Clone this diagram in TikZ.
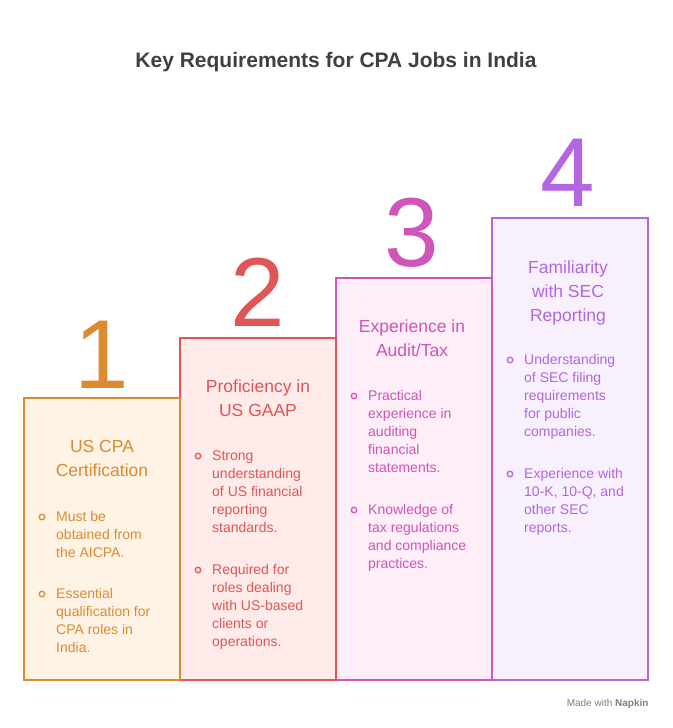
\documentclass[tikz,border=0pt]{standalone}
\usepackage{fontspec}
\setmainfont{Liberation Sans}
\begin{document}
\begin{tikzpicture}[x=1pt,y=-1pt,
 box/.style={line width=1.3pt},
 num/.style={font=\fontsize{98}{98}\selectfont,anchor=base},
 hd/.style={font=\fontsize{17.5}{24}\selectfont,align=center,anchor=base},
 bt/.style={font=\fontsize{14}{18}\selectfont,align=left,anchor=base west,inner sep=0},
 bul/.style={circle,draw,line width=1.3pt,minimum size=5.5pt,inner sep=0}]
\useasboundingbox (0,0) rectangle (672,728);
\definecolor{c1}{HTML}{DB8A30}\definecolor{f1}{HTML}{FFF3E6}
\definecolor{c2}{HTML}{E05555}\definecolor{f2}{HTML}{FFECEA}
\definecolor{c3}{HTML}{CF55B8}\definecolor{f3}{HTML}{FDEEF8}
\definecolor{c4}{HTML}{B266E0}\definecolor{f4}{HTML}{F8F0FD}
\node[font=\bfseries\fontsize{21}{24}\selectfont,text=black!75] (title) at (336,62) {Key Requirements for CPA Jobs in India};
\draw[box,c4,fill=f4] (492,218) rectangle (648,680);
\draw[box,c3,fill=f3] (336,278) rectangle (492,680);
\draw[box,c2,fill=f2] (180,338) rectangle (336,680);
\draw[box,c1,fill=f1] (24,398) rectangle (180,680);
% numbers
\node[num,text=c1] (n1) at (102,388) {1};
\node[num,text=c2] (n2) at (258,326) {2};
\node[num,text=c3] (n3) at (412,266) {3};
\node[num,text=c4] (n4) at (568,206) {4};
% col1
\node[hd,text=c1] (h1) at (102,476) {US CPA\\Certification};
\node[bul,c1] (b11) at (42,517) {};
\node[bt,text=c1] (t11) at (56,557) {Must be\\obtained from\\the AICPA.};
\node[bul,c1] (b12) at (42,594) {};
\node[bt,text=c1] (t12) at (56,652) {Essential\\qualification for\\CPA roles in\\India.};
% col2
\node[hd,text=c2] (h2) at (258,416) {Proficiency in\\US GAAP};
\node[bul,c2] (b21) at (198,456) {};
\node[bt,text=c2] (t21) at (212,532) {Strong\\understanding\\of US financial\\reporting\\standards.};
\node[bul,c2] (b22) at (198,570) {};
\node[bt,text=c2] (t22) at (212,646) {Required for\\roles dealing\\with US-based\\clients or\\operations.};
% col3
\node[hd,text=c3] (h3) at (412,356) {Experience in\\Audit/Tax};
\node[bul,c3] (b31) at (354,396) {};
\node[bt,text=c3] (t31) at (368,472) {Practical\\experience in\\auditing\\financial\\statements.};
\node[bul,c3] (b32) at (354,510) {};
\node[bt,text=c3] (t32) at (368,568) {Knowledge of\\tax regulations\\and compliance\\practices.};
% col4
\node[hd,text=c4] (h4) at (568,321) {Familiarity\\with SEC\\Reporting};
\node[bul,c4] (b41) at (510,360) {};
\node[bt,text=c4] (t41) at (524,436) {Understanding\\of SEC filing\\requirements\\for public\\companies.};
\node[bul,c4] (b42) at (510,474) {};
\node[bt,text=c4] (t42) at (524,532) {Experience with\\10-K, 10-Q, and\\other SEC\\reports.};
\node[font=\fontsize{10}{12}\selectfont,text=black!50,anchor=east] (mk) at (652,704) {Made with \textbf{Napkin}};
\end{tikzpicture}
\end{document}
